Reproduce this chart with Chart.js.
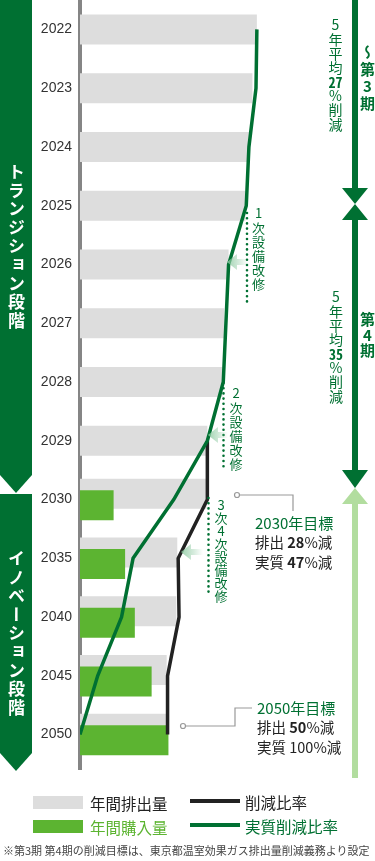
<!DOCTYPE html>
<html lang="ja">
<head>
<meta charset="utf-8">
<script src="https://cdn.jsdelivr.net/npm/chart.js@4"></script>
<style>
html,body{margin:0;padding:0;background:#fff;}
body{width:375px;height:861px;position:relative;overflow:hidden;font-family:"Noto Sans CJK JP","Noto Sans",sans-serif;}
#c{position:absolute;left:0;top:0;}
#deco{position:absolute;left:0;top:0;}
.vt{position:absolute;writing-mode:vertical-rl;text-orientation:upright;line-height:1;white-space:nowrap;}
.tcy{text-combine-upright:all;}
.t{position:absolute;white-space:nowrap;line-height:20px;}
.g{color:#007032;}
b{font-weight:700;}
.box{position:absolute;}
</style>
</head>
<body>
<canvas id="c" width="375" height="764"></canvas>
<svg id="deco" width="375" height="861" viewBox="0 0 375 861">
  <defs>
    <linearGradient id="pale" x1="0" y1="0" x2="1" y2="0">
      <stop offset="0" stop-color="#8cc9a0" stop-opacity="0.85"/>
      <stop offset="1" stop-color="#8cc9a0" stop-opacity="0"/>
    </linearGradient>
  </defs>
  <!-- left phase banners -->
  <polygon points="0,0 32,0 32,475 16,493 0,475" fill="#007032"/>
  <polygon points="0,494 32,494 32,753 16,771 0,753" fill="#007032"/>
  <!-- axis line continuation below plot area -->
  <rect x="78" y="763" width="4" height="7" fill="#858585"/>
  <!-- right period arrows -->
  <rect x="352" y="0" width="6" height="190" fill="#007032"/>
  <polygon points="342,188 368,188 355,204" fill="#007032"/>
  <polygon points="355,204 368,220 342,220" fill="#007032"/>
  <rect x="352" y="219" width="6" height="253" fill="#007032"/>
  <polygon points="342,470 368,470 355,488" fill="#007032"/>
  <polygon points="355,488 368,504 342,504" fill="#b2dd9f"/>
  <rect x="352" y="503" width="6" height="275" fill="#b2dd9f"/>
  <!-- dotted lines -->
  <line x1="247" y1="213" x2="247" y2="305" stroke="#007032" stroke-width="2.6" stroke-linecap="round" stroke-dasharray="0 5.2"/>
  <line x1="223.5" y1="383" x2="223.5" y2="469" stroke="#007032" stroke-width="2.6" stroke-linecap="round" stroke-dasharray="0 5.2"/>
  <line x1="208.5" y1="498" x2="208.5" y2="592" stroke="#007032" stroke-width="2.6" stroke-linecap="round" stroke-dasharray="0 5.2"/>
  <!-- pale arrows -->
  <polygon points="227,262 237,254 237,259 248,259 248,265 237,265 237,270" fill="url(#pale)"/>
  <polygon points="208,435 218,427 218,432 228,432 228,438 218,438 218,443" fill="url(#pale)"/>
  <polygon points="181,552 191,544 191,549 203,549 203,555 191,555 191,560" fill="url(#pale)"/>
  <!-- target connectors -->
  <polyline points="239.5,495 293,495 293,511" fill="none" stroke="#999" stroke-width="1.2"/>
  <circle cx="237" cy="495" r="2.5" fill="#fff" stroke="#999" stroke-width="1.2"/>
  <polyline points="185.5,726 235,726 235,708 252,708" fill="none" stroke="#999" stroke-width="1.2"/>
  <circle cx="183" cy="726" r="2.5" fill="#fff" stroke="#999" stroke-width="1.2"/>
</svg>

<!-- banner texts -->
<div class="vt" style="left:8px;top:163px;font-size:17px;letter-spacing:1.6px;color:#fff;font-weight:700;">トランジション段階</div>
<div class="vt" style="left:8px;top:550px;font-size:17px;letter-spacing:1.6px;color:#fff;font-weight:700;">イノベーション段階</div>

<!-- period texts -->
<div class="vt g" style="left:328.5px;top:18px;font-size:14px;letter-spacing:0.2px;">5年平均<b class="tcy">27</b>%削減</div>
<div class="vt g" style="left:329px;top:290px;font-size:14px;letter-spacing:0.2px;">5年平均<b class="tcy">35</b>%削減</div>
<div class="vt g" style="left:360px;top:45px;font-size:15px;letter-spacing:2px;font-weight:700;">～第3期</div>
<div class="vt g" style="left:360px;top:312px;font-size:15px;letter-spacing:0.6px;font-weight:700;">第4期</div>

<!-- retrofit texts -->
<div class="vt g" style="left:252px;top:207px;font-size:13px;letter-spacing:1.2px;">1次設備改修</div>
<div class="vt g" style="left:229.5px;top:387px;font-size:13px;letter-spacing:1.2px;">2次設備改修</div>
<div class="vt g" style="left:214.5px;top:499px;font-size:13px;letter-spacing:0px;">3次4次設備改修</div>

<!-- target texts -->
<div class="t g" style="left:255px;top:513px;font-size:15px;">2030年目標</div>
<div class="t" style="left:255px;top:532px;font-size:14.5px;color:#222;">排出 <b>28</b>%減</div>
<div class="t" style="left:255px;top:552px;font-size:14.5px;color:#222;">実質 <b>47</b>%減</div>
<div class="t g" style="left:257px;top:698px;font-size:15px;">2050年目標</div>
<div class="t" style="left:257px;top:717px;font-size:14.5px;color:#222;">排出 <b>50</b>%減</div>
<div class="t" style="left:257px;top:737px;font-size:14.5px;color:#222;">実質 100%減</div>

<!-- legend -->
<div class="box" style="left:33px;top:796px;width:50px;height:13px;background:#dddddd;"></div>
<div class="t" style="left:90px;top:793px;font-size:15.5px;color:#222;">年間排出量</div>
<div class="box" style="left:190px;top:799px;width:50px;height:4px;background:#222;"></div>
<div class="t" style="left:245px;top:792px;font-size:15.5px;color:#222;">削減比率</div>
<div class="box" style="left:33px;top:820px;width:50px;height:13px;background:#5cb431;"></div>
<div class="t" style="left:90px;top:817px;font-size:15.5px;color:#5cb431;">年間購入量</div>
<div class="box" style="left:190px;top:823px;width:50px;height:4px;background:#007032;"></div>
<div class="t" style="left:245px;top:816px;font-size:15.5px;color:#007032;">実質削減比率</div>

<div class="t" style="left:3px;top:840px;font-size:11px;color:#444;">※第3期 第4期の削減目標は、東京都温室効果ガス排出量削減義務より設定</div>

<script>
// ---- data ----
const years = ['2022','2023','2024','2025','2026','2027','2028','2029','2030','2035','2040','2045','2050'];
const annualEmissions = [100, 97.5, 95.5, 93.5, 84, 81.5, 80.5, 72, 71.5, 55, 54.5, 49, 49.5];
const annualPurchases = [null, null, null, null, null, null, null, null, 19, 25.5, 31, 40.5, 50];
const reductionRatio  = [null, null, null, null, null, null, null, 72, 72, 55.5, 56, 49.5, 49.5];
const netReductionRatio = [100, 99.5, 95.5, 94, 84, 82.5, 81, 72, 53, 30, 23.5, 10, 0];
const xMax = 160;

const GRAY_BAR = 2, GREEN_BAR = 3;
const purchaseOnTop = {
  id: 'purchaseOnTop',
  beforeDatasetDraw(chart, args) {
    if (args.index === GREEN_BAR) return false;
  },
  afterDatasetDraw(chart, args) {
    if (args.index === GRAY_BAR) {
      chart.getDatasetMeta(GREEN_BAR).controller.draw();
    }
  }
};

new Chart(document.getElementById('c'), {
  type: 'bar',
  data: {
    labels: years,
    datasets: [
      { type: 'line', label: '実質削減比率', data: netReductionRatio, borderColor: '#007032',
        borderWidth: 3.5, pointRadius: 0, fill: false, tension: 0, order: 0 },
      { type: 'line', label: '削減比率', data: reductionRatio, borderColor: '#222222',
        borderWidth: 3.5, pointRadius: 0, fill: false, tension: 0, order: 1 },
      { type: 'bar', label: '年間排出量', data: annualEmissions, backgroundColor: '#dddddd',
        borderWidth: 0, skipNull: true, order: 2 },
      { type: 'bar', label: '年間購入量', data: annualPurchases, backgroundColor: '#5cb431',
        borderWidth: 0, skipNull: true, order: 3 }
    ]
  },
  options: {
    indexAxis: 'y',
    responsive: false,
    animation: false,
    devicePixelRatio: 1,
    layout: { padding: { left: 0, right: 12, top: 0, bottom: 0 } },
    datasets: { bar: { categoryPercentage: 0.391, barPercentage: 2.7, maxBarThickness: 30 } },
    plugins: { legend: { display: false }, tooltip: { enabled: false } },
    scales: {
      x: { display: false, min: 0, max: xMax },
      y: {
        z: 1,
        grid: { display: false, drawTicks: false },
        border: { display: true, color: '#858585', width: 4 },
        ticks: { padding: 8, color: '#333', font: { family: '"Liberation Sans", Arial, sans-serif', size: 14 } },
        afterFit(scale) { scale.width = 80; scale.paddingTop = 0; scale.paddingBottom = 0; }
      }
    }
  },
  plugins: [purchaseOnTop]
});
</script>
</body>
</html>
